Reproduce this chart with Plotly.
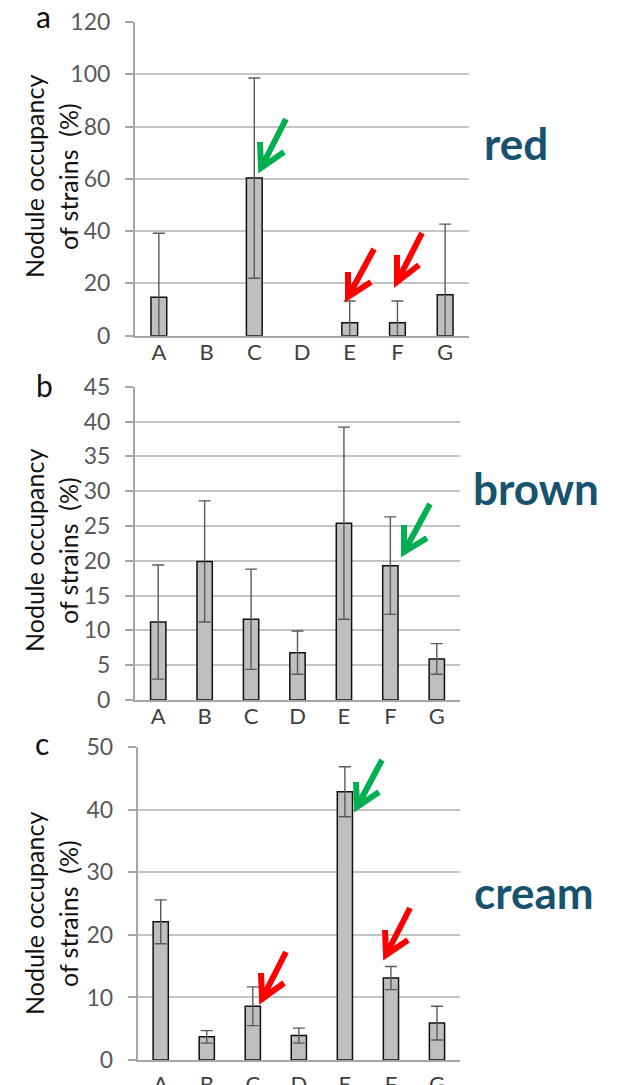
import plotly.graph_objects as go

W, H = 617, 1085

categories = ["A", "B", "C", "D", "E", "F", "G"]
red_values = [14.7, 0, 60.3, 0, 5.0, 5.0, 15.7]
red_errors = [24.5, 0, 38.3, 0, 8.3, 8.3, 27.0]
brown_values = [11.2, 19.9, 11.6, 6.8, 25.4, 19.3, 5.9]
brown_errors = [8.2, 8.7, 7.2, 3.1, 13.8, 7.0, 2.2]
cream_values = [22.1, 3.7, 8.6, 3.9, 42.9, 13.1, 5.9]
cream_errors = [3.5, 1.0, 3.1, 1.2, 4.0, 1.85, 2.7]

panel_letters = ["a", "b", "c"]
colour_names = ["red", "brown", "cream"]
y_ranges = [[0, 120], [0, 45], [0, 50]]
y_dticks = [20, 5, 10]


def px(x):
    return x / W


def py(y):
    return 1 - y / H


# plot areas in pixels: (left, right, top, bottom)
areas = [(135, 469, 22, 335.7), (135, 460, 386.7, 700), (137.7, 460, 747.3, 1060)]
x_label_standoff = [-4, -4, 4]

FONT = "Lato, Carlito, Open Sans, sans-serif"
fig = go.Figure()

series = [(red_values, red_errors), (brown_values, brown_errors), (cream_values, cream_errors)]
for i, (vals, errs) in enumerate(series):
    ax = "" if i == 0 else str(i + 1)
    # a zero-height bar is drawn as nothing (no outline, no error cap)
    shown = [v if v else None for v in vals]
    fig.add_trace(go.Bar(
        x=categories, y=shown, width=0.33,
        marker=dict(color="#BFBFBF", line=dict(color="#111111", width=1.5)),
        error_y=dict(type="data", array=errs, visible=True, color="#5a5a5a",
                     thickness=1.4, width=6),
        xaxis="x" + ax, yaxis="y" + ax, showlegend=False,
    ))
    l, r, t, b = areas[i]
    fig.layout["xaxis" + ax] = dict(
        domain=[px(l), px(r)], anchor="y" + ax, type="category",
        categoryorder="array", categoryarray=categories,
        showline=True, linecolor="#A6A6A6", linewidth=2,
        showgrid=False, ticks="", automargin=False,
        tickfont=dict(family=FONT, size=22, color="#404040"),
        ticklabelstandoff=x_label_standoff[i],
    )
    fig.layout["yaxis" + ax] = dict(
        domain=[py(b), py(t)], anchor="x" + ax,
        range=y_ranges[i], dtick=y_dticks[i], automargin=False,
        showline=True, linecolor="#A6A6A6", linewidth=2,
        showgrid=True, gridcolor="#C4C4C4", gridwidth=2,
        ticks="outside", ticklen=8, tickcolor="#A6A6A6", tickwidth=2,
        tickfont=dict(family=FONT, size=23, color="#595959"),
        ticklabelstandoff=10, zeroline=False,
    )

annotations = []
letter_pos = [(43, 16), (45, 385), (42, 743)]
for (x, y), s in zip(letter_pos, panel_letters):
    annotations.append(dict(x=px(x), y=py(y), xref="paper", yref="paper", text=s,
                            showarrow=False, font=dict(family=FONT, size=30, color="#111111"),
                            xanchor="center", yanchor="middle", borderpad=0))

title_centres = [177, 551, 914]
for yc in title_centres:
    annotations.append(dict(x=px(34), y=py(yc), xref="paper", yref="paper",
                            text="Nodule occupancy", textangle=-90, showarrow=False,
                            font=dict(family=FONT, size=25, color="#111111"),
                            xanchor="center", yanchor="middle"))
    annotations.append(dict(x=px(68), y=py(yc), xref="paper", yref="paper",
                            text="of strains  (%)", textangle=-90, showarrow=False,
                            font=dict(family=FONT, size=25, color="#111111"),
                            xanchor="center", yanchor="middle"))

name_pos = [(516, 143), (536, 488), (534, 892)]
for (x, y), s in zip(name_pos, colour_names):
    annotations.append(dict(x=px(x), y=py(y), xref="paper", yref="paper", text="<b>%s</b>" % s,
                            showarrow=False, font=dict(family=FONT, size=44, color="#17536E"),
                            xanchor="center", yanchor="middle"))

fig.update_layout(annotations=annotations)

GREEN = "#00B050"
RED = "#FF0000"
# arrows: tail, tip, arm1, arm2 (pixels)
arrows = [
    (GREEN, (286, 119), (261, 168), (260, 142), (284, 152)),
    (RED, (374, 249), (348, 297), (348, 272), (371, 282)),
    (RED, (422, 233), (397, 282), (397, 255), (419, 265)),
    (GREEN, (430, 504), (404, 552), (404, 525), (427, 538)),
    (GREEN, (382, 760), (357, 807), (356, 782), (379, 792)),
    (RED, (286, 952), (262, 999), (261, 973), (284, 983)),
    (RED, (410, 908), (386, 955), (385, 930), (408, 940)),
]
shapes = []
for col, tail, tip, a1, a2 in arrows:
    path = "M %f,%f L %f,%f M %f,%f L %f,%f L %f,%f" % (
        px(tail[0]), py(tail[1]), px(tip[0]), py(tip[1]),
        px(a1[0]), py(a1[1]), px(tip[0]), py(tip[1]), px(a2[0]), py(a2[1]))
    shapes.append(dict(type="path", path=path, xref="paper", yref="paper",
                       line=dict(color=col, width=6)))

fig.update_layout(
    shapes=shapes,
    width=W, height=H, autosize=False,
    margin=dict(l=0, r=0, t=0, b=0, pad=0, autoexpand=False),
    paper_bgcolor="white", plot_bgcolor="white",
    bargap=0.6,
)

fig.write_html("out.html", config={"displayModeBar": False},
               post_script="document.body.style.margin='0';")
